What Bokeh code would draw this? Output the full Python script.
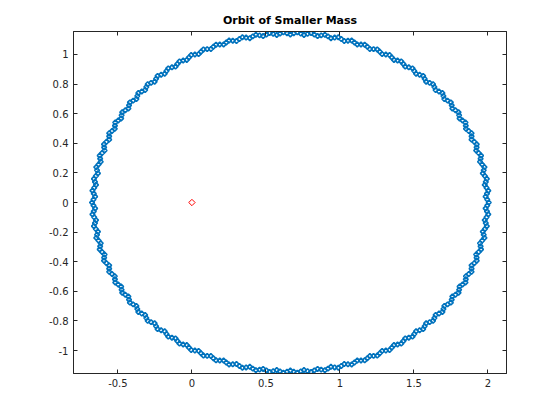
from bokeh.plotting import figure
from bokeh.models import Range1d, LinearAxis, FixedTicker, NumeralTickFormatter, CustomLabelingPolicy
from bokeh.embed import file_html
from bokeh.resources import INLINE

pass_a_x = [
    2.005, 2.002, 1.992, 1.976, 1.953, 1.924, 1.889, 1.848, 1.801, 1.749, 1.692, 1.629,
    1.562, 1.490, 1.414, 1.335, 1.252, 1.167, 1.079, 0.989, 0.898, 0.805, 0.712,
    0.618, 0.525, 0.432, 0.341, 0.251, 0.163, 0.078, -0.005, -0.084, -0.160, -0.232,
    -0.299, -0.362, -0.419, -0.471, -0.518, -0.559, -0.594, -0.623, -0.646, -0.662, -0.672, -0.675,
    -0.672, -0.662, -0.646, -0.623, -0.594, -0.559, -0.518, -0.471, -0.419, -0.362, -0.299,
    -0.232, -0.160, -0.084, -0.005, 0.078, 0.163, 0.251, 0.341, 0.432, 0.525, 0.618,
    0.712, 0.805, 0.898, 0.989, 1.079, 1.167, 1.252, 1.335, 1.414, 1.490, 1.562, 1.629,
    1.692, 1.749, 1.801, 1.848, 1.889, 1.924, 1.953, 1.976, 1.992, 2.002,
]
pass_a_y = [
    0.000, 0.080, 0.160, 0.239, 0.317, 0.393, 0.468, 0.540, 0.609, 0.676, 0.739, 0.799,
    0.855, 0.906, 0.953, 0.996, 1.034, 1.066, 1.094, 1.116, 1.133, 1.144, 1.149,
    1.149, 1.144, 1.133, 1.116, 1.094, 1.066, 1.034, 0.996, 0.953, 0.906, 0.855,
    0.799, 0.739, 0.676, 0.609, 0.540, 0.468, 0.393, 0.317, 0.239, 0.160, 0.080, 0.000,
    -0.080, -0.160, -0.239, -0.317, -0.393, -0.468, -0.540, -0.609, -0.676, -0.739, -0.799,
    -0.855, -0.906, -0.953, -0.996, -1.034, -1.066, -1.094, -1.116, -1.133, -1.144, -1.149,
    -1.149, -1.144, -1.133, -1.116, -1.094, -1.066, -1.034, -0.996, -0.953, -0.906, -0.855, -0.799,
    -0.739, -0.676, -0.609, -0.540, -0.468, -0.393, -0.317, -0.239, -0.160, -0.080,
]
pass_b_x = [
    1.984, 1.978, 1.965, 1.946, 1.920, 1.889, 1.851, 1.808, 1.759, 1.705, 1.646, 1.582,
    1.514, 1.441, 1.365, 1.285, 1.202, 1.117, 1.029, 0.939, 0.849, 0.757, 0.665,
    0.573, 0.481, 0.391, 0.301, 0.214, 0.128, 0.045, -0.035, -0.111, -0.184, -0.252,
    -0.316, -0.375, -0.429, -0.478, -0.521, -0.559, -0.590, -0.616, -0.635, -0.648, -0.654,
    -0.654, -0.648, -0.635, -0.616, -0.590, -0.559, -0.521, -0.478, -0.429, -0.375, -0.316,
    -0.252, -0.184, -0.111, -0.035, 0.045, 0.128, 0.214, 0.301, 0.391, 0.481, 0.573, 0.665,
    0.757, 0.849, 0.939, 1.029, 1.117, 1.202, 1.285, 1.365, 1.441, 1.514, 1.582,
    1.646, 1.705, 1.759, 1.808, 1.851, 1.889, 1.920, 1.946, 1.965, 1.978, 1.984,
]
pass_b_y = [
    0.040, 0.119, 0.197, 0.275, 0.351, 0.425, 0.498, 0.568, 0.635, 0.699, 0.760, 0.816,
    0.870, 0.918, 0.963, 1.002, 1.037, 1.067, 1.091, 1.110, 1.124, 1.132, 1.135,
    1.132, 1.124, 1.110, 1.091, 1.067, 1.037, 1.002, 0.963, 0.918, 0.870, 0.816,
    0.760, 0.699, 0.635, 0.568, 0.498, 0.425, 0.351, 0.275, 0.197, 0.119, 0.040,
    -0.040, -0.119, -0.197, -0.275, -0.351, -0.425, -0.498, -0.568, -0.635, -0.699, -0.760,
    -0.816, -0.870, -0.918, -0.963, -1.002, -1.037, -1.067, -1.091, -1.110, -1.124, -1.132, -1.135,
    -1.132, -1.124, -1.110, -1.091, -1.067, -1.037, -1.002, -0.963, -0.918, -0.870, -0.816,
    -0.760, -0.699, -0.635, -0.568, -0.498, -0.425, -0.351, -0.275, -0.197, -0.119, -0.040,
]
pass_c_x = [
    1.995, 1.993, 1.990, 1.985, 1.979, 1.971, 1.961, 1.950, 1.937, 1.923, 1.907, 1.889,
    1.870, 1.850, 1.828, 1.805, 1.780, 1.755, 1.727, 1.699, 1.669, 1.638, 1.606, 1.572,
    1.538, 1.502, 1.465, 1.428, 1.389, 1.350, 1.310, 1.269, 1.227, 1.185, 1.142, 1.098,
    1.054, 1.009, 0.964, 0.919, 0.873, 0.827, 0.781, 0.735, 0.688,
    -0.665, -0.663, -0.660, -0.655, -0.649, -0.641, -0.631, -0.620, -0.607, -0.593, -0.577, -0.559,
    -0.540, -0.520, -0.498, -0.475, -0.450, -0.425, -0.397, -0.369, -0.339, -0.308, -0.276, -0.242,
    -0.208, -0.172, -0.135, -0.098, -0.059, -0.020, 0.020, 0.061, 0.103, 0.145, 0.188, 0.232,
    0.276, 0.321, 0.366, 0.411, 0.457, 0.503, 0.549, 0.595, 0.642,
    -0.665, -0.663, -0.660, -0.655, -0.649, -0.641, -0.631, -0.620, -0.607, -0.593, -0.577, -0.559,
    -0.540, -0.520, -0.498, -0.475, -0.450, -0.425, -0.397, -0.369, -0.339, -0.308, -0.276, -0.242,
    -0.208, -0.172, -0.135, -0.098, -0.059, -0.020, 0.020, 0.061, 0.103, 0.145, 0.188, 0.232,
    0.276, 0.321, 0.366, 0.411, 0.457, 0.503, 0.549, 0.595, 0.642,
    1.995, 1.993, 1.990, 1.985, 1.979, 1.971, 1.961, 1.950, 1.937, 1.923, 1.907, 1.889,
    1.870, 1.850, 1.828, 1.805, 1.780, 1.755, 1.727, 1.699, 1.669, 1.638, 1.606, 1.572,
    1.538, 1.502, 1.465, 1.428, 1.389, 1.350, 1.310, 1.269, 1.227, 1.185, 1.142, 1.098,
    1.054, 1.009, 0.964, 0.919, 0.873, 0.827, 0.781, 0.735, 0.688,
]
pass_c_y = [
    0.020, 0.060, 0.100, 0.139, 0.179, 0.218, 0.257, 0.296, 0.334, 0.372, 0.410, 0.447,
    0.483, 0.519, 0.554, 0.589, 0.623, 0.656, 0.688, 0.719, 0.750, 0.780, 0.808, 0.836,
    0.863, 0.888, 0.913, 0.936, 0.959, 0.980, 1.000, 1.018, 1.036, 1.052, 1.067, 1.081,
    1.093, 1.104, 1.114, 1.122, 1.129, 1.134, 1.139, 1.141, 1.143,
    0.020, 0.060, 0.100, 0.139, 0.179, 0.218, 0.257, 0.296, 0.334, 0.372, 0.410, 0.447,
    0.483, 0.519, 0.554, 0.589, 0.623, 0.656, 0.688, 0.719, 0.750, 0.780, 0.808, 0.836,
    0.863, 0.888, 0.913, 0.936, 0.959, 0.980, 1.000, 1.018, 1.036, 1.052, 1.067, 1.081,
    1.093, 1.104, 1.114, 1.122, 1.129, 1.134, 1.139, 1.141, 1.143,
    -0.020, -0.060, -0.100, -0.139, -0.179, -0.218, -0.257, -0.296, -0.334, -0.372, -0.410, -0.447,
    -0.483, -0.519, -0.554, -0.589, -0.623, -0.656, -0.688, -0.719, -0.750, -0.780, -0.808, -0.836,
    -0.863, -0.888, -0.913, -0.936, -0.959, -0.980, -1.000, -1.018, -1.036, -1.052, -1.067, -1.081,
    -1.093, -1.104, -1.114, -1.122, -1.129, -1.134, -1.139, -1.141, -1.143,
    -0.020, -0.060, -0.100, -0.139, -0.179, -0.218, -0.257, -0.296, -0.334, -0.372, -0.410, -0.447,
    -0.483, -0.519, -0.554, -0.589, -0.623, -0.656, -0.688, -0.719, -0.750, -0.780, -0.808, -0.836,
    -0.863, -0.888, -0.913, -0.936, -0.959, -0.980, -1.000, -1.018, -1.036, -1.052, -1.067, -1.081,
    -1.093, -1.104, -1.114, -1.122, -1.129, -1.134, -1.139, -1.141, -1.143,
]

# Larger mass position
center_x = [0.0]
center_y = [0.0]

x_ticks = [-0.5, 0, 0.5, 1, 1.5, 2]
y_ticks = [-1, -0.8, -0.6, -0.4, -0.2, 0, 0.2, 0.4, 0.6, 0.8, 1]

AX = "#262626"
BLUE = "#0072BD"

p = figure(
    output_backend="svg", toolbar_location=None,
    frame_width=433, frame_height=342,
    x_range=Range1d(-0.8, 2.125), y_range=Range1d(-1.155, 1.155),
    min_border_left=73, min_border_top=31, min_border_right=40, min_border_bottom=30,
    background_fill_color="white", border_fill_color="white",
    outline_line_color=AX,
)
p.title.text = "Orbit of Smaller Mass"
p.title.align = "center"
p.title.text_font = "DejaVu Sans"
p.title.text_font_size = "11px"
p.title.text_font_style = "bold"
p.title.text_color = "black"
p.title.standoff = 2

p.xgrid.visible = False
p.ygrid.visible = False

p.add_layout(LinearAxis(), "above")
p.add_layout(LinearAxis(), "right")

for ax in p.xaxis:
    ax.ticker = FixedTicker(ticks=x_ticks)
for ax in p.yaxis:
    ax.ticker = FixedTicker(ticks=y_ticks)

for ax in list(p.xaxis) + list(p.yaxis):
    ax.formatter = NumeralTickFormatter(format="0.[0]")
    ax.major_tick_in = 4
    ax.major_tick_out = 0
    ax.minor_tick_line_color = None
    ax.axis_line_color = AX
    ax.major_tick_line_color = AX
    ax.major_label_text_color = AX
    ax.major_label_text_font = "DejaVu Sans"
    ax.major_label_text_font_size = "10px"
    ax.major_label_standoff = 5

for ax in p.above + p.right:
    ax.major_label_policy = CustomLabelingPolicy(code="return new Set()")
    ax.major_label_text_font_size = "1px"
    ax.major_label_standoff = 0

all_x = pass_a_x + pass_b_x + pass_c_x
all_y = pass_a_y + pass_b_y + pass_c_y
p.scatter(all_x, all_y, marker="square", angle=0.785398, size=3.4,
          fill_color=None, line_color=BLUE, line_width=1.6)
p.scatter(center_x, center_y, marker="square", angle=0.785398, size=4.5,
          fill_color=None, line_color="#FF0000", line_width=1)

open("out.html", "w").write(file_html(p, INLINE))
